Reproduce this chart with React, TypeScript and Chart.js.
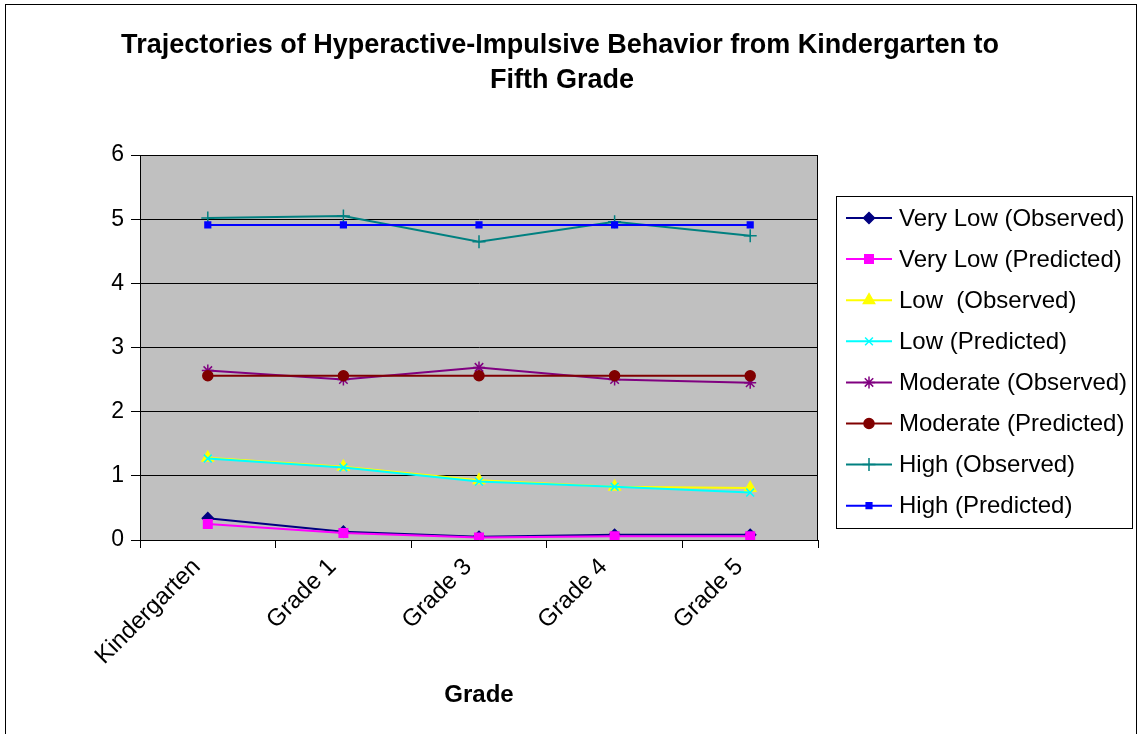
import React, { useEffect, useRef } from 'react';
import { Chart, registerables } from 'chart.js';
import { drawPoint } from 'chart.js/helpers';

Chart.register(...registerables);

const categories = ['Kindergarten', 'Grade 1', 'Grade 3', 'Grade 4', 'Grade 5'];
const yMin = 0;
const yMax = 6;
const yStep = 1;

const titleLines = ['Trajectories of Hyperactive-Impulsive Behavior from Kindergarten to', 'Fifth Grade'];
const xAxisTitle = 'Grade';

const seriesLabels = [
  'Very Low (Observed)',
  'Very Low (Predicted)',
  'Low  (Observed)',
  'Low (Predicted)',
  'Moderate (Observed)',
  'Moderate (Predicted)',
  'High (Observed)',
  'High (Predicted)',
];

const veryLowObserved = [0.34, 0.13, 0.05, 0.08, 0.08];
const veryLowPredicted = [0.25, 0.11, 0.04, 0.06, 0.06];
const lowObserved = [1.28, 1.14, 0.93, 0.83, 0.81];
const lowPredicted = [1.27, 1.13, 0.91, 0.83, 0.74];
const moderateObserved = [2.64, 2.5, 2.69, 2.5, 2.45];
const moderatePredicted = [2.56, 2.56, 2.56, 2.56, 2.56];
const highObserved = [5.02, 5.05, 4.65, 4.96, 4.74];
const highPredicted = [4.91, 4.91, 4.91, 4.91, 4.91];

const seriesData = [
  veryLowObserved,
  veryLowPredicted,
  lowObserved,
  lowPredicted,
  moderateObserved,
  moderatePredicted,
  highObserved,
  highPredicted,
];

const seriesColors = ['#000080', '#FF00FF', '#FFFF00', '#00FFFF', '#800080', '#800000', '#008080', '#0000FF'];
const seriesMarkers = ['rectRot', 'rect', 'triangle', 'crossRot', 'star', 'circle', 'cross', 'rect'];
const seriesMarkerSizes = [5.5, 6, 6.5, 5.5, 6, 5, 6.5, 4];

const FONT = "'Liberation Sans', Arial, sans-serif";

const decorPlugin = {
  id: 'decor',
  beforeDraw(chart: any) {
    const { ctx, chartArea } = chart;
    ctx.save();
    ctx.fillStyle = '#FFFFFF';
    ctx.fillRect(0, 0, chart.width, chart.height);
    ctx.fillStyle = '#C0C0C0';
    ctx.fillRect(chartArea.left, chartArea.top, chartArea.right - chartArea.left, chartArea.bottom - chartArea.top);
    ctx.restore();
  },
  beforeDatasetsDraw(chart: any) {
    const { ctx, chartArea } = chart;
    ctx.save();
    ctx.strokeStyle = '#000000';
    ctx.lineWidth = 1;
    ctx.beginPath();
    ctx.moveTo(chartArea.left, Math.round(chartArea.top) + 0.5);
    ctx.lineTo(chartArea.right, Math.round(chartArea.top) + 0.5);
    ctx.moveTo(Math.round(chartArea.right) - 0.5, chartArea.top);
    ctx.lineTo(Math.round(chartArea.right) - 0.5, chartArea.bottom);
    ctx.stroke();
    ctx.restore();
  },
  afterDraw(chart: any) {
    const { ctx } = chart;
    ctx.save();
    // outer border
    ctx.strokeStyle = '#000000';
    ctx.lineWidth = 1;
    ctx.strokeRect(5.5, 4.5, 1131, 780);

    // title
    ctx.fillStyle = '#000000';
    ctx.textAlign = 'center';
    ctx.textBaseline = 'middle';
    ctx.font = `bold 27px ${FONT}`;
    ctx.fillText(titleLines[0], 560, 46);
    ctx.fillText(titleLines[1], 562, 81);

    // x axis title
    ctx.font = `bold 24px ${FONT}`;
    ctx.fillText(xAxisTitle, 479, 695);

    // legend
    const lx = 836.5;
    const ly = 196.5;
    ctx.strokeStyle = '#000000';
    ctx.strokeRect(lx, ly, 296, 332);
    ctx.textAlign = 'left';
    ctx.font = `24px ${FONT}`;
    chart.data.datasets.forEach((ds: any, i: number) => {
      const y = 218 + i * 41.1;
      ctx.strokeStyle = ds.borderColor;
      ctx.lineWidth = 2;
      ctx.beginPath();
      ctx.moveTo(846, y);
      ctx.lineTo(892, y);
      ctx.stroke();
      ctx.fillStyle = ds.pointBackgroundColor;
      ctx.strokeStyle = ds.pointBorderColor;
      ctx.lineWidth = ds.pointBorderWidth;
      drawPoint(ctx, { pointStyle: ds.pointStyle, radius: ds.pointRadius, rotation: 0, borderWidth: ds.pointBorderWidth }, 869, y);
      ctx.fillStyle = '#000000';
      ctx.fillText(ds.label, 899, y + 1);
    });
    ctx.restore();
  },
};

export default function App() {
  const canvasRef = useRef<HTMLCanvasElement | null>(null);

  useEffect(() => {
    if (!canvasRef.current) return;
    const datasets = seriesLabels.map((label, i) => ({
      label,
      data: seriesData[i],
      borderColor: seriesColors[i],
      backgroundColor: seriesColors[i],
      pointBackgroundColor: seriesColors[i],
      pointBorderColor: seriesColors[i],
      pointBorderWidth: 1.5,
      pointStyle: seriesMarkers[i],
      pointRadius: seriesMarkerSizes[i],
      borderWidth: 2,
      tension: 0,
      fill: false,
      order: seriesLabels.length - i,
    }));

    const chart = new Chart(canvasRef.current, {
      type: 'line',
      data: { labels: categories, datasets },
      plugins: [decorPlugin],
      options: {
        responsive: false,
        animation: false,
        devicePixelRatio: 1,
        layout: { padding: { top: 155, right: 321, bottom: 0, left: 0 } },
        plugins: {
          legend: { display: false },
          title: { display: false },
          tooltip: { enabled: false },
        },
        scales: {
          x: {
            type: 'category',
            offset: true,
            afterFit: (s: any) => {
              s.height = 194;
            },
            grid: {
              display: true,
              offset: true,
              drawOnChartArea: false,
              drawTicks: true,
              tickLength: 8,
              color: '#000000',
              tickColor: '#000000',
            },
            border: { display: true, color: '#000000', width: 1 },
            ticks: {
              autoSkip: false,
              maxRotation: 45,
              minRotation: 45,
              color: '#000000',
              padding: 5,
              labelOffset: -11,
              font: { family: FONT, size: 24 },
            },
          },
          y: {
            min: yMin,
            max: yMax,
            afterFit: (s: any) => {
              s.width = 140;
            },
            grid: {
              color: '#000000',
              tickColor: '#000000',
              tickLength: 9,
              drawTicks: true,
            },
            border: { display: true, color: '#000000', width: 1 },
            ticks: {
              stepSize: yStep,
              color: '#000000',
              padding: 7,
              font: { family: FONT, size: 23 },
            },
          },
        },
      },
    } as any);
    return () => chart.destroy();
  }, []);

  return (
    <div style={{ position: 'fixed', left: 0, top: 0, width: 1139, height: 734, background: '#FFFFFF' }}>
      <canvas ref={canvasRef} width={1139} height={734} style={{ width: 1139, height: 734 }} />
    </div>
  );
}
